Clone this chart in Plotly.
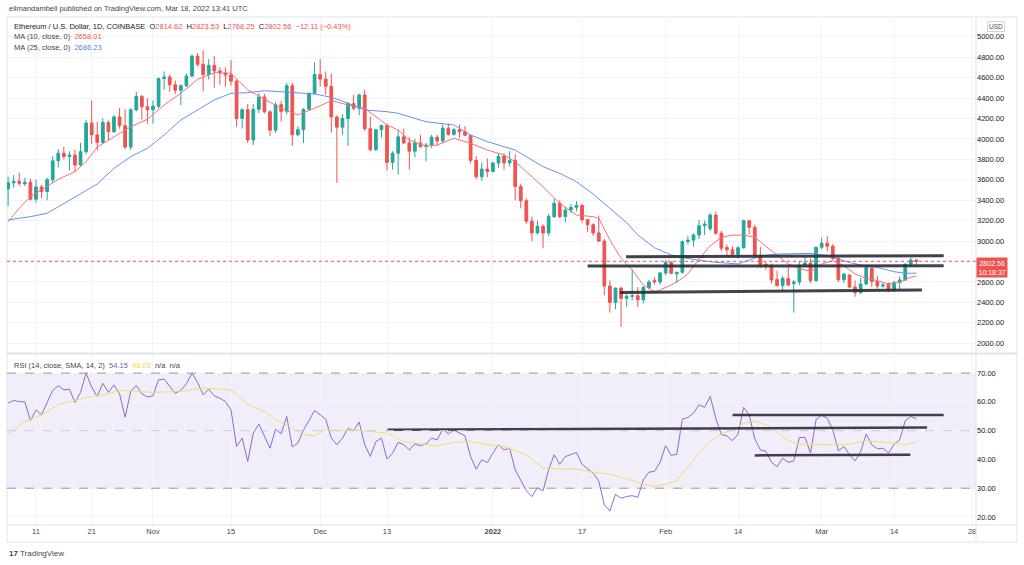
import pandas as pd
import plotly.graph_objects as go

# ---------------- data ----------------
start_date = "2021-10-06"

open_ = [
    3510, 3570, 3585, 3560, 3575, 3410, 3530, 3485, 3600, 3785, 3860, 3828, 3842, 3745, 3875, 4155, 4040, 3965, 4160, 4070, 4215, 4130, 3920, 4285, 4415, 4315,
    4285, 4320, 4590, 4605, 4530, 4475, 4520, 4615, 4810, 4730, 4630, 4720, 4665, 4645, 4625, 4565, 4200, 4285, 3990, 4290, 4410, 4265, 4085, 4335, 4270, 4520, 4040, 4090, 4290, 4445,
    4630, 4585, 4515, 4215, 4115, 4200, 4345, 4300, 4430, 4100, 3895, 4090, 4130, 3770, 3860, 4020, 3960, 3880, 3960, 3925, 3940, 4015, 3980, 4105, 4045, 4090, 4070, 4035, 3790, 3630, 3705,
    3680, 3765, 3830, 3765, 3790, 3535, 3395, 3195, 3080, 3145, 3080, 3240, 3370, 3240, 3305, 3330, 3350, 3210, 3160, 3080, 3000, 2560, 2400, 2540, 2440, 2460, 2465, 2425, 2545, 2615, 2600,
    2688, 2790, 2680, 2695, 2995, 3010, 3060, 3150, 3120, 3255, 3078, 2938, 2915, 2870, 2935, 3200, 3135, 2860, 2773, 2760, 2625, 2565, 2635, 2585, 2600, 2765, 2785, 2615,
    2940, 2980, 2950, 2830, 2622, 2668, 2550, 2495, 2580, 2735, 2605, 2560, 2580, 2515, 2595, 2620, 2775, 2814.62,
]
high = [
    3630, 3645, 3670, 3620, 3610, 3600, 3550, 3620, 3830, 3900, 3925, 3880, 3895, 3960, 4185, 4375, 4170, 4200, 4180, 4235, 4300, 4290, 4300, 4460, 4430, 4400,
    4375, 4600, 4660, 4630, 4570, 4535, 4640, 4825, 4840, 4865, 4780, 4810, 4700, 4700, 4770, 4580, 4300, 4340, 4340, 4450, 4440, 4280, 4360, 4375, 4550, 4550, 4125, 4300, 4460, 4750,
    4780, 4660, 4640, 4230, 4240, 4360, 4430, 4440, 4480, 4220, 4100, 4140, 4150, 3880, 4090, 4100, 4020, 4000, 4040, 3960, 4040, 4040, 4140, 4150, 4110, 4140, 4125, 4040, 3830, 3770, 3810,
    3770, 3860, 3860, 3880, 3850, 3560, 3420, 3240, 3200, 3165, 3265, 3415, 3400, 3335, 3365, 3390, 3360, 3215, 3175, 3250, 3020, 2615, 2545, 2555, 2480, 2725, 2550, 2560, 2620, 2645, 2700,
    2815, 2805, 2700, 3005, 3050, 3075, 3205, 3200, 3275, 3285, 3100, 2965, 2950, 2950, 3210, 3205, 3160, 2945, 2800, 2780, 2710, 2660, 2750, 2620, 2800, 2860, 2830, 2945,
    3035, 3050, 2970, 2845, 2690, 2670, 2615, 2640, 2765, 2740, 2660, 2590, 2595, 2610, 2655, 2780, 2840, 2823.53,
]
low = [
    3340, 3520, 3540, 3540, 3400, 3375, 3420, 3400, 3570, 3720, 3800, 3690, 3680, 3730, 3850, 3950, 3890, 3950, 3985, 4060, 4100, 3900, 3890, 4270, 4190, 4150,
    4150, 4300, 4480, 4460, 4440, 4330, 4505, 4600, 4710, 4465, 4580, 4500, 4530, 4510, 4520, 4120, 4100, 3960, 3940, 4250, 4250, 4025, 4060, 4170, 4240, 3930, 4030, 3960, 4280, 4435,
    4510, 4430, 4060, 3570, 4040, 3930, 4280, 4230, 4080, 3880, 3880, 4010, 3690, 3700, 3650, 3950, 3700, 3820, 3910, 3780, 3910, 3930, 3960, 4030, 4030, 4010, 4030, 3760, 3605, 3590, 3625,
    3680, 3720, 3700, 3730, 3400, 3320, 3170, 3000, 3065, 2930, 3050, 3225, 3225, 3185, 3275, 3290, 3180, 3090, 3050, 2990, 2470, 2300, 2335, 2160, 2360, 2420, 2355, 2390, 2530, 2575, 2575,
    2665, 2675, 2590, 2680, 2965, 2945, 3020, 3060, 3100, 3060, 2900, 2860, 2860, 2830, 2925, 3065, 2840, 2740, 2720, 2585, 2555, 2500, 2565, 2300, 2570, 2750, 2590, 2600,
    2920, 2900, 2815, 2600, 2590, 2540, 2455, 2485, 2575, 2550, 2535, 2545, 2500, 2505, 2520, 2610, 2760, 2768.25,
]
close = [
    3570, 3585, 3565, 3575, 3410, 3530, 3485, 3600, 3785, 3860, 3828, 3842, 3745, 3875, 4155, 4040, 3965, 4160, 4070, 4215, 4130, 3920, 4285, 4415, 4315, 4285,
    4320, 4590, 4605, 4530, 4475, 4520, 4615, 4810, 4730, 4630, 4720, 4665, 4645, 4625, 4565, 4200, 4285, 3990, 4290, 4410, 4265, 4085, 4335, 4270, 4520, 4040, 4090, 4290, 4445, 4630,
    4585, 4515, 4215, 4115, 4200, 4345, 4300, 4430, 4100, 3895, 4090, 4130, 3770, 3860, 4020, 3960, 3880, 3960, 3925, 3940, 4015, 3980, 4105, 4045, 4090, 4070, 4035, 3790, 3630, 3705, 3680,
    3765, 3830, 3765, 3790, 3535, 3395, 3195, 3080, 3145, 3080, 3240, 3370, 3240, 3305, 3330, 3350, 3210, 3160, 3080, 3000, 2560, 2400, 2540, 2440, 2460, 2465, 2425, 2545, 2600, 2600, 2688,
    2790, 2685, 2695, 2995, 3010, 3060, 3150, 3166, 3255, 3078, 2930, 2915, 2870, 2935, 3200, 3135, 2860, 2770, 2760, 2620, 2565, 2635, 2570, 2600, 2765, 2785, 2615, 2940,
    2980, 2950, 2830, 2622, 2678, 2550, 2495, 2580, 2740, 2605, 2560, 2570, 2515, 2595, 2620, 2775, 2815, 2802.56,
]

rsi = [
    59.6, 60.5, 60.1, 60.0, 53.5, 57.2, 55.5, 59.6, 64.0, 65.6, 64.2, 64.4, 59.8, 63.3, 70.0, 65.1, 61.9, 66.5, 63.3, 65.9, 62.8, 54.7, 63.6, 65.7, 62.8, 61.7,
    62.1, 67.7, 67.9, 65.4, 63.0, 64.0, 66.3, 70.0, 66.8, 62.5, 64.4, 62.1, 61.3, 60.1, 57.2, 44.5, 47.4, 39.3, 49.1, 52.3, 48.0, 43.9, 50.5, 48.9, 54.9, 44.3, 45.7, 50.2, 53.5, 57.0,
    55.5, 54.0, 47.4, 45.1, 47.4, 50.8, 50.0, 53.0, 45.1, 41.0, 46.2, 47.4, 40.1, 42.2, 45.9, 45.1, 43.3, 45.4, 44.7, 45.4, 47.4, 46.8, 50.5, 48.9, 50.2, 49.1, 48.2, 41.0, 36.6, 39.9, 38.9,
    42.2, 45.1, 43.3, 43.9, 36.4, 32.9, 29.1, 27.1, 30.2, 29.1, 36.4, 41.6, 38.3, 41.0, 41.6, 42.4, 38.3, 36.9, 35.2, 32.5, 24.2, 22.1, 27.9, 26.5, 27.1, 27.4, 26.8, 32.9, 35.6, 35.8, 39.0,
    44.8, 41.4, 41.8, 54.0, 54.6, 56.1, 59.0, 58.1, 61.9, 54.3, 48.6, 48.2, 46.5, 48.8, 58.1, 55.5, 47.2, 43.3, 42.8, 39.0, 37.5, 40.4, 39.0, 39.5, 47.6, 47.7, 42.2, 53.8,
    55.3, 54.3, 50.3, 43.0, 44.5, 41.6, 39.5, 42.8, 48.8, 45.1, 43.7, 43.9, 42.2, 45.3, 46.8, 53.4, 54.9, 54.15,
]

ma10_dates = ["2021-10-06", "2021-10-08", "2021-10-10", "2021-10-12", "2021-10-15", "2021-10-18", "2021-10-20", "2021-10-22",
              "2021-10-25", "2021-10-28", "2021-10-31", "2021-11-03", "2021-11-06", "2021-11-09", "2021-11-12", "2021-11-15",
              "2021-11-18", "2021-11-21", "2021-11-24", "2021-11-27", "2021-11-30", "2021-12-03", "2021-12-06", "2021-12-09",
              "2021-12-13", "2021-12-15", "2021-12-17", "2021-12-20", "2021-12-22", "2021-12-25", "2021-12-28", "2021-12-31",
              "2022-01-03", "2022-01-05", "2022-01-07", "2022-01-10", "2022-01-13", "2022-01-16", "2022-01-19", "2022-01-20",
              "2022-01-22", "2022-01-24", "2022-01-26", "2022-01-28", "2022-01-30", "2022-01-31", "2022-02-02", "2022-02-04",
              "2022-02-05", "2022-02-07", "2022-02-09", "2022-02-11", "2022-02-13", "2022-02-15", "2022-02-17", "2022-02-19",
              "2022-02-21", "2022-02-23", "2022-02-25", "2022-02-27", "2022-03-01", "2022-03-03", "2022-03-05", "2022-03-07",
              "2022-03-09", "2022-03-11", "2022-03-13", "2022-03-15", "2022-03-17", "2022-03-18"]
ma10_vals = [3190, 3321, 3435, 3500, 3604, 3679, 3777, 3921,
             4022, 4119, 4192, 4332, 4446, 4583, 4648, 4642,
             4479, 4387, 4299, 4234, 4299, 4374, 4332, 4299,
             4136, 4087, 3989, 3930, 3940, 4006, 3957, 3891,
             3842, 3777, 3679, 3532, 3370, 3255, 3239, 3223,
             3011, 2832, 2717, 2570, 2505, 2521, 2570, 2636,
             2680, 2824, 2954, 3036, 3059, 3059, 3036, 2954,
             2863, 2776, 2733, 2701, 2776, 2808, 2759, 2678,
             2636, 2613, 2580, 2597, 2646, 2658.01]

ma25_dates = ["2021-10-06", "2021-10-10", "2021-10-13", "2021-10-16", "2021-10-19", "2021-10-22", "2021-10-25", "2021-10-28",
              "2021-10-31", "2021-11-03", "2021-11-06", "2021-11-09", "2021-11-12", "2021-11-15", "2021-11-18", "2021-11-21",
              "2021-11-24", "2021-11-27", "2021-11-30", "2021-12-03", "2021-12-05", "2021-12-09", "2021-12-13", "2021-12-15",
              "2021-12-20", "2021-12-25", "2021-12-28", "2021-12-31", "2022-01-03", "2022-01-05", "2022-01-07", "2022-01-10",
              "2022-01-13", "2022-01-16", "2022-01-19", "2022-01-22", "2022-01-25", "2022-01-27", "2022-01-30", "2022-02-02",
              "2022-02-05", "2022-02-09", "2022-02-12", "2022-02-14", "2022-02-16", "2022-02-18", "2022-02-21", "2022-02-24",
              "2022-02-27", "2022-03-02", "2022-03-04", "2022-03-06", "2022-03-08", "2022-03-11", "2022-03-14", "2022-03-16",
              "2022-03-18"]
ma25_vals = [3207, 3239, 3272, 3370, 3468, 3559, 3712, 3826,
             3908, 4038, 4185, 4283, 4381, 4446, 4452, 4472,
             4462, 4446, 4439, 4407, 4370, 4283, 4266, 4250,
             4168, 4136, 4038, 3973, 3924, 3891, 3826, 3728,
             3663, 3581, 3460, 3320, 3180, 3060, 2935, 2864,
             2830, 2798, 2785, 2776, 2815, 2855, 2873, 2873,
             2880, 2857, 2824, 2792, 2766, 2743, 2700, 2685,
             2686.23]

rsi_ma_dates = ["2021-10-06", "2021-10-09", "2021-10-12", "2021-10-15", "2021-10-18", "2021-10-21", "2021-10-24", "2021-10-26",
                "2021-10-29", "2021-11-01", "2021-11-04", "2021-11-07", "2021-11-10", "2021-11-13", "2021-11-15", "2021-11-16",
                "2021-11-18", "2021-11-21", "2021-11-23", "2021-11-26", "2021-11-28", "2021-11-30", "2021-12-02", "2021-12-04",
                "2021-12-07", "2021-12-10", "2021-12-13", "2021-12-16", "2021-12-19", "2021-12-22", "2021-12-25", "2021-12-28",
                "2021-12-31", "2022-01-03", "2022-01-07", "2022-01-10", "2022-01-13", "2022-01-16", "2022-01-19", "2022-01-22",
                "2022-01-25", "2022-01-28", "2022-01-30", "2022-02-01", "2022-02-03", "2022-02-05", "2022-02-07", "2022-02-09",
                "2022-02-11", "2022-02-13", "2022-02-15", "2022-02-17", "2022-02-19", "2022-02-21", "2022-02-23", "2022-02-25",
                "2022-02-27", "2022-03-01", "2022-03-03", "2022-03-06", "2022-03-09", "2022-03-12", "2022-03-14", "2022-03-16",
                "2022-03-18"]
rsi_ma_vals = [48.6, 53.2, 55.5, 59.0, 60.5, 61.9, 62.8, 64.0,
               63.6, 63.3, 63.5, 63.9, 64.8, 64.4, 64.2, 62.5,
               59.0, 56.7, 53.8, 50.9, 48.6, 48.2, 50.5, 50.0,
               50.3, 49.7, 49.1, 46.2, 45.4, 44.7, 45.9, 46.2,
               45.1, 44.5, 41.6, 37.0, 36.7, 36.7, 35.6, 34.9,
               33.3, 31.4, 30.6, 31.4, 32.6, 37.5, 42.2, 46.5,
               48.8, 50.3, 52.6, 53.4, 52.0, 49.5, 46.5, 45.3,
               45.1, 45.1, 45.1, 45.3, 46.5, 46.0, 45.7, 45.1,
               46.03]

# drawn trend lines (start date, start value, end date, end value)
price_lines = [
    ("2022-01-24 21:36", 2847, "2022-03-22 21:36", 2857),
    ("2022-01-18 00:00", 2756, "2022-03-22 21:36", 2759),
    ("2022-01-23 19:00", 2497, "2022-03-19 00:00", 2522),
]
rsi_lines = [
    ("2021-12-13 02:00", 50.3, "2022-03-19 22:00", 51.1),
    ("2022-02-13 00:00", 55.4, "2022-03-22 21:36", 55.4),
    ("2022-02-17 00:00", 41.4, "2022-03-16 22:00", 41.6),
]

tick_dates = ["2021-10-11", "2021-10-21", "2021-11-01", "2021-11-15", "2021-12-01", "2021-12-13", "2022-01-01",
              "2022-01-17", "2022-02-01", "2022-02-14", "2022-03-01", "2022-03-14", "2022-03-28"]
tick_text = ["11", "21", "Nov", "15", "Dec", "13", "<b>2022</b>", "17", "Feb", "14", "Mar", "14", "28"]

price_ticks = [2000, 2200, 2400, 2600, 3000, 3200, 3400, 3600, 3800, 4000, 4200, 4400, 4600, 4800, 5000]
hidden_price_tick = 2800   # covered by the last-price label
rsi_ticks = [20, 30, 40, 50, 60, 70]

last_price = 2802.56

# ---------------- figure ----------------
dates = pd.date_range(start_date, periods=len(close), freq="D")

UP = "#26a69a"
DOWN = "#ef5350"
FONT = "Liberation Sans"
TXT = "#131722"
GRID = "#f0f3fa"
FS = 7.5

fig = go.Figure()

fig.add_trace(go.Candlestick(
    x=dates, open=open_, high=high, low=low, close=close,
    increasing=dict(line=dict(color=UP, width=1), fillcolor=UP),
    decreasing=dict(line=dict(color=DOWN, width=1), fillcolor=DOWN),
    whiskerwidth=0, xaxis="x", yaxis="y", showlegend=False, hoverinfo="skip",
))
fig.add_trace(go.Scatter(x=pd.to_datetime(ma10_dates), y=ma10_vals, mode="lines",
                         line=dict(color="#f7707a", width=1), xaxis="x", yaxis="y",
                         showlegend=False, hoverinfo="skip"))
fig.add_trace(go.Scatter(x=pd.to_datetime(ma25_dates), y=ma25_vals, mode="lines",
                         line=dict(color="#6b8ff2", width=1), xaxis="x", yaxis="y",
                         showlegend=False, hoverinfo="skip"))

for (d0, v0, d1, v1) in price_lines:
    fig.add_trace(go.Scatter(x=[pd.Timestamp(d0), pd.Timestamp(d1)], y=[v0, v1], mode="lines",
                             line=dict(color="#2a2e39", width=3), xaxis="x", yaxis="y",
                             showlegend=False, hoverinfo="skip", opacity=0.9))

# RSI pane
fig.add_trace(go.Scatter(x=dates, y=rsi, mode="lines", line=dict(color="#8b6bd0", width=1),
                         xaxis="x2", yaxis="y2", showlegend=False, hoverinfo="skip"))
fig.add_trace(go.Scatter(x=pd.to_datetime(rsi_ma_dates), y=rsi_ma_vals, mode="lines",
                         line=dict(color="#f3dc6e", width=1), xaxis="x2", yaxis="y2",
                         showlegend=False, hoverinfo="skip"))
for (d0, v0, d1, v1) in rsi_lines:
    fig.add_trace(go.Scatter(x=[pd.Timestamp(d0), pd.Timestamp(d1)], y=[v0, v1], mode="lines",
                             line=dict(color="#2a2e39", width=2.5), xaxis="x2", yaxis="y2",
                             showlegend=False, hoverinfo="skip", opacity=0.9))

x_range = [pd.Timestamp("2021-10-05 19:12"), pd.Timestamp("2022-03-28 16:48")]

FRAME_R = (1017 - 7) / 969
FRAME_T = (525 - 17) / 506
shapes = [
    # grid line for the tick hidden behind the price label
    dict(type="line", xref="x domain", yref="y", x0=0, x1=1, y0=hidden_price_tick, y1=hidden_price_tick,
         line=dict(color=GRID, width=1), layer="below"),
    # RSI band
    dict(type="rect", xref="x2 domain", yref="y2", x0=0, x1=1, y0=30, y1=70,
         fillcolor="rgba(126,87,194,0.1)", line=dict(width=0), layer="below"),
    dict(type="line", xref="x2 domain", yref="y2", x0=0, x1=1, y0=70, y1=70,
         line=dict(color="#9598a1", width=1, dash="dash")),
    dict(type="line", xref="x2 domain", yref="y2", x0=0, x1=1, y0=50, y1=50,
         line=dict(color="#c9cbd1", width=1, dash="dash")),
    dict(type="line", xref="x2 domain", yref="y2", x0=0, x1=1, y0=30, y1=30,
         line=dict(color="#9598a1", width=1, dash="dash")),
    # last price dotted line
    dict(type="line", xref="x domain", yref="y", x0=0, x1=1, y0=last_price, y1=last_price,
         line=dict(color=DOWN, width=1, dash="dot")),
    # frame lines
    dict(type="rect", xref="paper", yref="paper", x0=0, x1=FRAME_R, y0=-0.0336, y1=FRAME_T,
         line=dict(color="#e0e3eb", width=1), layer="below"),
    dict(type="line", xref="paper", yref="paper", x0=1, x1=1, y0=-0.0336, y1=FRAME_T,
         line=dict(color="#e0e3eb", width=1)),
    dict(type="line", xref="paper", yref="paper", x0=0, x1=FRAME_R, y0=0, y1=0,
         line=dict(color="#e0e3eb", width=1)),
    dict(type="line", xref="paper", yref="paper", x0=0, x1=FRAME_R, y0=0.339, y1=0.339,
         line=dict(color="#e0e3eb", width=2)),
]

red = DOWN
ann = [
    dict(text="elimandambell published on TradingView.com, Mar 18, 2022 13:41 UTC",
         xref="paper", yref="paper", x=0.0, y=(525 - 9) / 506, xanchor="left", yanchor="middle",
         showarrow=False, font=dict(size=FS, color="#434651", family=FONT)),
    dict(text=("Ethereum / U.S. Dollar, 1D, COINBASE  "
               f"O<span style='color:{red}'>2814.62</span>  H<span style='color:{red}'>2823.53</span>  "
               f"L<span style='color:{red}'>2768.25</span>  C<span style='color:{red}'>2802.56</span>  "
               f"<span style='color:{red}'>−12.11 (−0.43%)</span>"),
         xref="paper", yref="paper", x=0.005, y=(525 - 26.5) / 506, xanchor="left", yanchor="middle",
         showarrow=False, font=dict(size=FS, color=TXT, family=FONT)),
    dict(text=f"MA (10, close, 0)  <span style='color:{red}'>2658.01</span>",
         xref="paper", yref="paper", x=0.005, y=(525 - 36.5) / 506, xanchor="left", yanchor="middle",
         showarrow=False, font=dict(size=FS, color="#434651", family=FONT)),
    dict(text="MA (25, close, 0)  <span style='color:#4f7ff0'>2686.23</span>",
         xref="paper", yref="paper", x=0.005, y=(525 - 47) / 506, xanchor="left", yanchor="middle",
         showarrow=False, font=dict(size=FS, color="#434651", family=FONT)),
    dict(text=("RSI (14, close, SMA, 14, 2)  <span style='color:#7e57c2'>54.15</span>  "
               "<span style='color:#f0d64a'>46.03</span>  n/a  n/a"),
         xref="paper", yref="paper", x=0.005, y=(525 - 365) / 506, xanchor="left", yanchor="middle",
         showarrow=False, font=dict(size=FS, color="#434651", family=FONT)),
    dict(text="2802.56<br>10:18:37", xref="paper", yref="y", x=1.0, y=last_price,
         xanchor="left", yanchor="top", yshift=4, xshift=0, showarrow=False, align="center",
         bgcolor=DOWN, borderpad=1.5, font=dict(size=7, color="white", family=FONT)),
    dict(text="USD", xref="paper", yref="paper", x=(996 - 7) / 969, y=(525 - 26) / 506,
         xanchor="center", yanchor="middle", showarrow=False, bordercolor="#d1d4dc",
         borderwidth=1, borderpad=1, font=dict(size=6.5, color="#434651", family=FONT)),
    dict(text="<b>17</b> TradingView", xref="paper", yref="paper", x=0.0, y=(525 - 553) / 506,
         xanchor="left", yanchor="middle", showarrow=False,
         font=dict(size=8, color="#434651", family=FONT)),
]

fig.update_layout(
    width=1024, height=565,
    margin=dict(l=7, r=48, t=19, b=40),
    paper_bgcolor="white", plot_bgcolor="white",
    font=dict(family=FONT, size=FS, color=TXT),
    showlegend=False,
    xaxis=dict(domain=[0, 1], anchor="y", range=x_range, rangeslider=dict(visible=False),
               tickvals=pd.to_datetime(tick_dates), ticktext=tick_text, showticklabels=False,
               showgrid=True, gridcolor=GRID, gridwidth=1, zeroline=False, showline=False),
    xaxis2=dict(domain=[0, 1], anchor="y2", range=x_range, matches="x",
                tickvals=pd.to_datetime(tick_dates), ticktext=tick_text, showticklabels=True,
                showgrid=True, gridcolor=GRID, gridwidth=1, zeroline=False, showline=False,
                ticks="", tickfont=dict(size=FS, color="#434651", family=FONT)),
    yaxis=dict(domain=[0.3419, 1], anchor="x", side="right", range=[1915, 5173],
               tickvals=price_ticks, tickformat=".2f",
               showgrid=True, gridcolor=GRID, zeroline=False, showline=False, ticks="",
               tickfont=dict(size=FS, color=TXT, family=FONT)),
    yaxis2=dict(domain=[0, 0.336], anchor="x2", side="right", range=[17.2, 76.3],
                tickvals=rsi_ticks, tickformat=".2f",
                showgrid=True, gridcolor=GRID, zeroline=False, showline=False, ticks="",
                tickfont=dict(size=FS, color=TXT, family=FONT)),
    shapes=shapes,
    annotations=ann,
)

fig.write_html("out.html", config={"displayModeBar": False},
               post_script="document.body.style.margin='0';")
